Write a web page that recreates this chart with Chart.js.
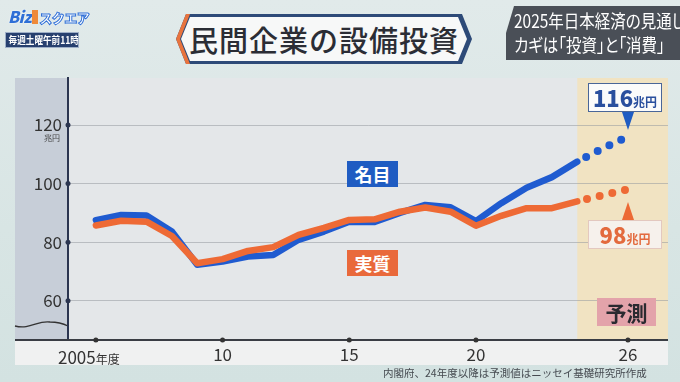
<!DOCTYPE html>
<html>
<head>
<meta charset="utf-8">
<script src="https://cdn.jsdelivr.net/npm/chart.js@4"></script>
<style>
  html, body { margin: 0; padding: 0; }
  body { width: 680px; height: 382px; overflow: hidden; font-family: "Noto Sans CJK JP", "Noto Sans", sans-serif; }
  #wrap { position: relative; width: 680px; height: 382px; overflow: hidden;
    background: linear-gradient(180deg, #e1eaea 0%, #d8e5e4 60%, #d3e2e1 100%); }
  #c { position: absolute; left: 0; top: 0; }
  .abs { position: absolute; white-space: nowrap; }
  .logo { left: 8px; top: 5px; height: 22px; font-weight: 900; font-size: 16px; font-style: italic;
    color: #2f6fd6; letter-spacing: -0.5px; line-height: 22px; text-shadow: 0 0 2px #fff; }
  .logo span { color: #fff; -webkit-text-stroke: 1px #2f6fd6; font-size: 13px; font-style: normal; }
  .logo i { display: inline-block; width: 6px; height: 14px; background: #ef8a3a; margin: 0 1px; vertical-align: -1px; }
  .sched { left: 5px; top: 32px; width: 74px; height: 16px; background: #27406f; color: #fff; font-size: 10px;
    font-weight: 700; line-height: 14px; border: 1px solid #9fb0c8; box-sizing: border-box; overflow: hidden; }
  .sched span { display: inline-block; transform: scaleX(0.86); transform-origin: left; padding-left: 3px; }
  .tOuter { left: 176px; top: 14px; width: 296px; height: 50px; background: #2d4a78;
    clip-path: polygon(10px 0, calc(100% - 10px) 0, 100% 50%, calc(100% - 10px) 100%, 10px 100%, 0 50%); }
  .tAcc { left: 176px; top: 14px; width: 20px; height: 50px; background: #e8733e;
    clip-path: polygon(10px 0, 14px 0, 4px 50%, 14px 100%, 10px 100%, 0 50%); }
  .tInner { left: 181px; top: 17px; width: 286px; height: 44px; background: #f7f8f8;
    clip-path: polygon(9px 0, calc(100% - 9px) 0, 100% 50%, calc(100% - 9px) 100%, 9px 100%, 0 50%);
    font-size: 29px; font-weight: 500; color: #2b2d35; text-align: center; line-height: 44px; letter-spacing: 1px; }
  .rbox { left: 506px; top: 6px; width: 180px; height: 54px; background: #4a4f57; color: #fff;
    clip-path: polygon(8px 0, 100% 0, 100% 100%, 0 100%, 0 50%); }
  .rbox div { position: absolute; left: 8px; font-size: 18px; line-height: 24px; transform: scaleX(0.86);
    transform-origin: left; font-feature-settings: "palt"; }
  .tag { width: 51px; height: 26px; color: #fff; font-size: 18px; font-weight: 700; text-align: center; line-height: 26px; }
  .call { width: 74px; height: 29px; background: #fbfbfb; box-sizing: border-box; text-align: center;
    font-weight: 700; line-height: 27px; }
  .call b { font-size: 22px; }
  .call small { font-size: 12px; font-weight: 700; }
  .tri { width: 0; height: 0; border-left: 6px solid transparent; border-right: 6px solid transparent; }
  .yicon { left: 44px; top: 132px; font-size: 8px; color: #444; }
  .xfirst { left: 58px; top: 344px; font-size: 17px; color: #333; }
  .xfirst small { font-size: 12px; }
  .src { left: 383px; top: 365px; font-size: 10.5px; color: #454a50; }
</style>
</head>
<body>
<div id="wrap">
  <canvas id="c" width="680" height="382"></canvas>

  <div class="abs logo">Biz<i></i><span>スクエア</span></div>
  <div class="abs sched"><span>毎週土曜午前11時</span></div>
  <div class="abs tOuter"></div>
  <div class="abs tAcc"></div>
  <div class="abs tInner">民間企業の設備投資</div>
  <div class="abs rbox"><div style="top:2px;">2025年日本経済の見通し</div><div style="top:26px;">カギは「投資」と「消費」</div></div>

  <div class="abs tag" style="left:347px;top:161px;background:#1f5cc2;">名目</div>
  <div class="abs tag" style="left:347px;top:250px;background:#e9693b;">実質</div>

  <div class="abs call" style="left:588px;top:83px;border:1.5px solid #4a6698;color:#2a4f9e;"><b>116</b><small>兆円</small></div>
  <div class="abs tri" style="left:622px;top:112px;border-top:18px solid #1f5cc2;"></div>
  <div class="abs tri" style="left:622px;top:202px;border-bottom:18px solid #ec6a35;"></div>
  <div class="abs call" style="left:588px;top:220px;border:1.5px solid #e3c8bf;color:#e36a3e;background:#f6f1ec;"><b>98</b><small>兆円</small></div>

  <div class="abs" style="left:597px;top:298px;width:59px;height:28px;background:#e3a3aa;color:#2a2a30;font-size:21px;font-weight:700;text-align:center;line-height:28px;">予測</div>

  <div class="abs yicon">兆円</div>
  <div class="abs xfirst">2005<small>年度</small></div>
  <div class="abs src">内閣府、24年度以降は予測値はニッセイ基礎研究所作成</div>
</div>

<script>
// fiscal years and values (trillion yen), 2024 onward is the forecast part
const years = [2005, 2006, 2007, 2008, 2009, 2010, 2011, 2012, 2013, 2014, 2015,
               2016, 2017, 2018, 2019, 2020, 2021, 2022, 2023, 2024, 2025, 2026];
const nominal = [87.5, 89.3, 89.1, 83.6, 72.3, 73.4, 75.1, 75.6, 80.8, 83.6, 87.0,
                 86.9, 90.0, 92.7, 91.9, 87.2, 93.3, 98.6, 102.2, 107.5, 112.0, 116.0];
const real = [85.7, 87.3, 87.0, 82.1, 72.8, 74.2, 77.0, 78.3, 82.5, 84.9, 87.6,
              87.8, 90.4, 91.8, 90.4, 85.6, 89.0, 91.6, 91.6, 93.9, 96.0, 98.0];
const xTicks = [2005, 2010, 2015, 2020, 2026];
const xTickLabels = ['', '10', '15', '20', '26'];
const yTicks = [60, 80, 100, 120];
const forecastFrom = 2024;

const toPoints = arr => years.map((y, i) => ({ x: y, y: arr[i] }));
const isForecast = ctx => ctx.p0.parsed.x >= forecastFrom;
const seg = {
  borderDash: ctx => isForecast(ctx) ? [0, 13] : undefined,
  borderDashOffset: ctx => isForecast(ctx) ? -10 : undefined,
  borderWidth: ctx => isForecast(ctx) ? 8 : undefined
};

// panel, strips, forecast shading and the axis break mark
const panelPlugin = {
  id: 'panel',
  beforeDraw(chart) {
    const { ctx, chartArea: a, scales } = chart;
    ctx.save();
    ctx.fillStyle = '#f0f1f1';
    ctx.fillRect(15, a.top, a.right - 15, 365 - a.top);
    ctx.fillStyle = '#e4e7e9';
    ctx.fillRect(a.left, a.top, a.right - a.left, a.bottom - a.top);
    ctx.fillStyle = '#c7ced8';
    ctx.fillRect(15, a.top, a.left - 15, a.bottom - a.top);
    const fx = scales.x.getPixelForValue(forecastFrom);
    ctx.fillStyle = '#f1e3c2';
    ctx.fillRect(fx, a.top, a.right - fx, a.bottom - a.top);
    // wavy break
    ctx.strokeStyle = '#333';
    ctx.lineWidth = 1.3;
    ctx.beginPath();
    ctx.moveTo(15, 326);
    ctx.bezierCurveTo(30, 330, 38, 320, 50, 322);
    ctx.bezierCurveTo(58, 322, 64, 324, 68, 326);
    ctx.stroke();
    ctx.restore();
  },
  afterDraw(chart) {
    const { ctx, chartArea: a, scales } = chart;
    ctx.save();
    ctx.strokeStyle = '#3a3d44';
    ctx.lineWidth = 2;
    ctx.beginPath();
    ctx.moveTo(15, a.bottom);
    ctx.lineTo(a.right, a.bottom);
    ctx.stroke();
    ctx.fillStyle = '#2b3550';
    yTicks.forEach(v => {
      ctx.beginPath();
      ctx.arc(a.left, scales.y.getPixelForValue(v), 2.5, 0, Math.PI * 2);
      ctx.fill();
    });
    ctx.fillStyle = '#333';
    xTicks.forEach(v => {
      ctx.beginPath();
      ctx.arc(scales.x.getPixelForValue(v), a.bottom, 2.5, 0, Math.PI * 2);
      ctx.fill();
    });
    ctx.restore();
  }
};

new Chart(document.getElementById('c'), {
  type: 'line',
  data: {
    datasets: [
      {
        label: '実質', data: toPoints(real), order: 0,
        borderColor: '#ee6a35', borderWidth: 6.5,
        borderCapStyle: 'round', borderJoinStyle: 'round',
        pointRadius: 0, tension: 0,
        segment: seg
      },
      {
        label: '名目', data: toPoints(nominal), order: 1,
        borderColor: '#1f5bd0', borderWidth: 6.5,
        borderCapStyle: 'round', borderJoinStyle: 'round',
        pointRadius: 0, tension: 0,
        segment: seg
      }
    ]
  },
  options: {
    responsive: false,
    animation: false,
    devicePixelRatio: 1,
    layout: { padding: { top: 78, right: 12, left: 0, bottom: 0 } },
    plugins: { legend: { display: false }, tooltip: { enabled: false } },
    scales: {
      x: {
        type: 'linear', min: 2003.9, max: 2027.58,
        afterBuildTicks: s => { s.ticks = xTicks.map(v => ({ value: v })); },
        afterFit: s => { s.height = 42; },
        grid: { display: false, drawTicks: false },
        border: { display: false },
        ticks: {
          padding: 4, color: '#333',
          font: { family: "'Noto Sans CJK JP', sans-serif", size: 17 },
          maxRotation: 0, autoSkip: false,
          callback: (v, i) => xTickLabels[i]
        }
      },
      y: {
        min: 46.58, max: 136.05,
        afterBuildTicks: s => { s.ticks = yTicks.map(v => ({ value: v })); },
        afterFit: s => { s.width = 68; },
        grid: { color: 'rgba(150,155,160,0.55)', lineWidth: 1, drawTicks: false },
        border: { color: '#2b3550', width: 2 },
        ticks: {
          padding: 6, color: '#333',
          font: { family: "'Noto Sans CJK JP', sans-serif", size: 17 }
        }
      }
    }
  },
  plugins: [panelPlugin]
});
</script>
</body>
</html>
